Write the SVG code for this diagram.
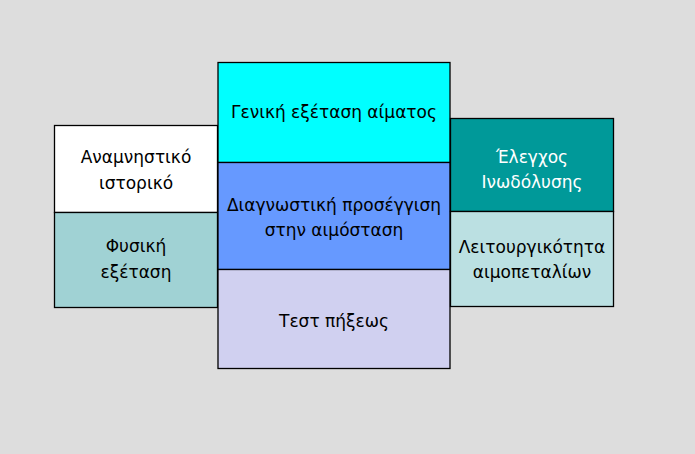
<svg xmlns="http://www.w3.org/2000/svg" width="695" height="454" viewBox="0 0 695 454">
<style>
.b{stroke:#000;stroke-width:1.3}
.t{font-family:"DejaVu Sans","Liberation Sans",sans-serif;font-size:17px;fill:#000;text-anchor:middle}
.w{fill:#fff}
</style>
<rect width="695" height="454" fill="#DDDDDD"/>
<g id="anamnistiko">
<rect class="b" x="54.5" y="125.5" width="163" height="87" fill="#FFFFFF"/>
<text class="t" x="136" y="163">Αναμνηστικό</text>
<text class="t" x="136" y="189">ιστορικό</text>
</g>
<g id="fysiki">
<rect class="b" x="54.5" y="212.5" width="163" height="95" fill="#A0D2D4"/>
<text class="t" x="136" y="252">Φυσική</text>
<text class="t" x="136" y="278">εξέταση</text>
</g>
<g id="geniki">
<rect class="b" x="218" y="62.5" width="232" height="100" fill="#00FFFF"/>
<text class="t" x="334" y="118">Γενική εξέταση αίματος</text>
</g>
<g id="diagnostiki">
<rect class="b" x="218" y="162.5" width="232" height="107" fill="#6699FF"/>
<text class="t" x="334" y="211">Διαγνωστική προσέγγιση</text>
<text class="t" x="334" y="236">στην αιμόσταση</text>
</g>
<g id="test">
<rect class="b" x="218" y="269.5" width="232" height="99" fill="#D0D0F0"/>
<text class="t" x="334" y="327">Τεστ πήξεως</text>
</g>
<g id="elegxos">
<rect class="b" x="450.5" y="118.5" width="163" height="93" fill="#009999"/>
<text class="t w" x="532" y="163">Έλεγχος</text>
<text class="t w" x="532" y="188">Ινωδόλυσης</text>
</g>
<g id="leitourgikotita">
<rect class="b" x="450.5" y="211.5" width="163" height="95" fill="#BBE0E2"/>
<text class="t" x="532" y="253">Λειτουργικότητα</text>
<text class="t" x="532" y="278">αιμοπεταλίων</text>
</g>
<g id="connectors"/>
</svg>
